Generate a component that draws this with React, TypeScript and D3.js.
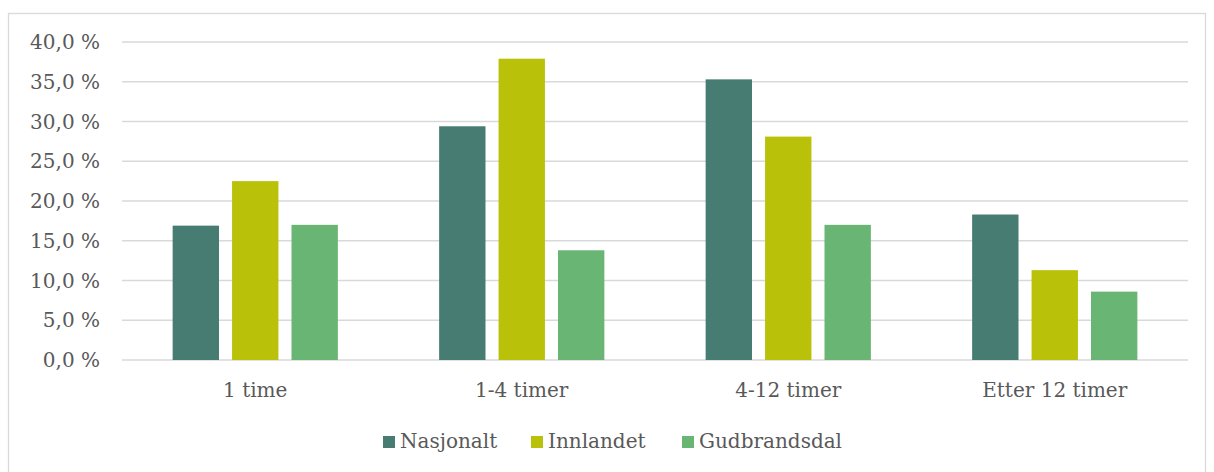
import React from "react";
import * as d3 from "d3";

const categories = ["1 time", "1-4 timer", "4-12 timer", "Etter 12 timer"];
const seriesNames = ["Nasjonalt", "Innlandet", "Gudbrandsdal"];
const nasjonalt = [16.9, 29.4, 35.3, 18.3];
const innlandet = [22.5, 37.9, 28.1, 11.3];
const gudbrandsdal = [17.0, 13.8, 17.0, 8.6];
const yTicks = [0, 5, 10, 15, 20, 25, 30, 35, 40];
const colors = ["#477c72", "#b9c109", "#69b573"];

const W = 1214;
const H = 472;
const FONT = "'DejaVu Serif', Georgia, serif";

export default function App() {
  const series = [nasjonalt, innlandet, gudbrandsdal];
  const left = 122;
  const right = 1188;
  const top = 42;
  const bottom = 360;
  const y = d3.scaleLinear().domain([0, 40]).range([bottom, top]);
  const x0 = d3.scaleBand().domain(categories).range([left, right]).paddingInner(0.38).paddingOuter(0.19);
  const x1 = d3.scaleBand().domain(seriesNames).range([0, x0.bandwidth()]).paddingInner(0.22);
  const fmt = (v: number) => v.toFixed(1).replace(".", ",") + " %";

  const legendX = [383, 531, 682];
  const fs = 20;

  return (
    <svg width={W} height={H} style={{ position: "absolute", left: 0, top: 0, background: "#fff" }} fontFamily={FONT}>
      <rect x={8.5} y={13.5} width={1197} height={470} fill="#fff" stroke="#d9d9d9" strokeWidth={1.3} />
      {yTicks.map((t) => (
        <g key={t}>
          <line x1={left} x2={right} y1={y(t)} y2={y(t)} stroke="#d9d9d9" strokeWidth={1.3} />
          <text x={100} y={y(t)} dy="0.35em" textAnchor="end" fontSize={fs} fill="#595959">
            {fmt(t)}
          </text>
        </g>
      ))}
      {categories.map((c, ci) => (
        <g key={c} transform={`translate(${x0(c)},0)`}>
          {series.map((s, si) => (
            <rect
              key={si}
              x={x1(seriesNames[si])}
              y={y(s[ci])}
              width={x1.bandwidth()}
              height={y(0) - y(s[ci])}
              fill={colors[si]}
            />
          ))}
          <text x={x0.bandwidth() / 2} y={397} textAnchor="middle" fontSize={fs} fill="#595959">
            {c}
          </text>
        </g>
      ))}
      {seriesNames.map((n, i) => (
        <g key={n}>
          <rect x={legendX[i]} y={436} width={12} height={12} fill={colors[i]} />
          <text x={legendX[i] + 17} y={448} fontSize={fs} fill="#595959">
            {n}
          </text>
        </g>
      ))}
    </svg>
  );
}
